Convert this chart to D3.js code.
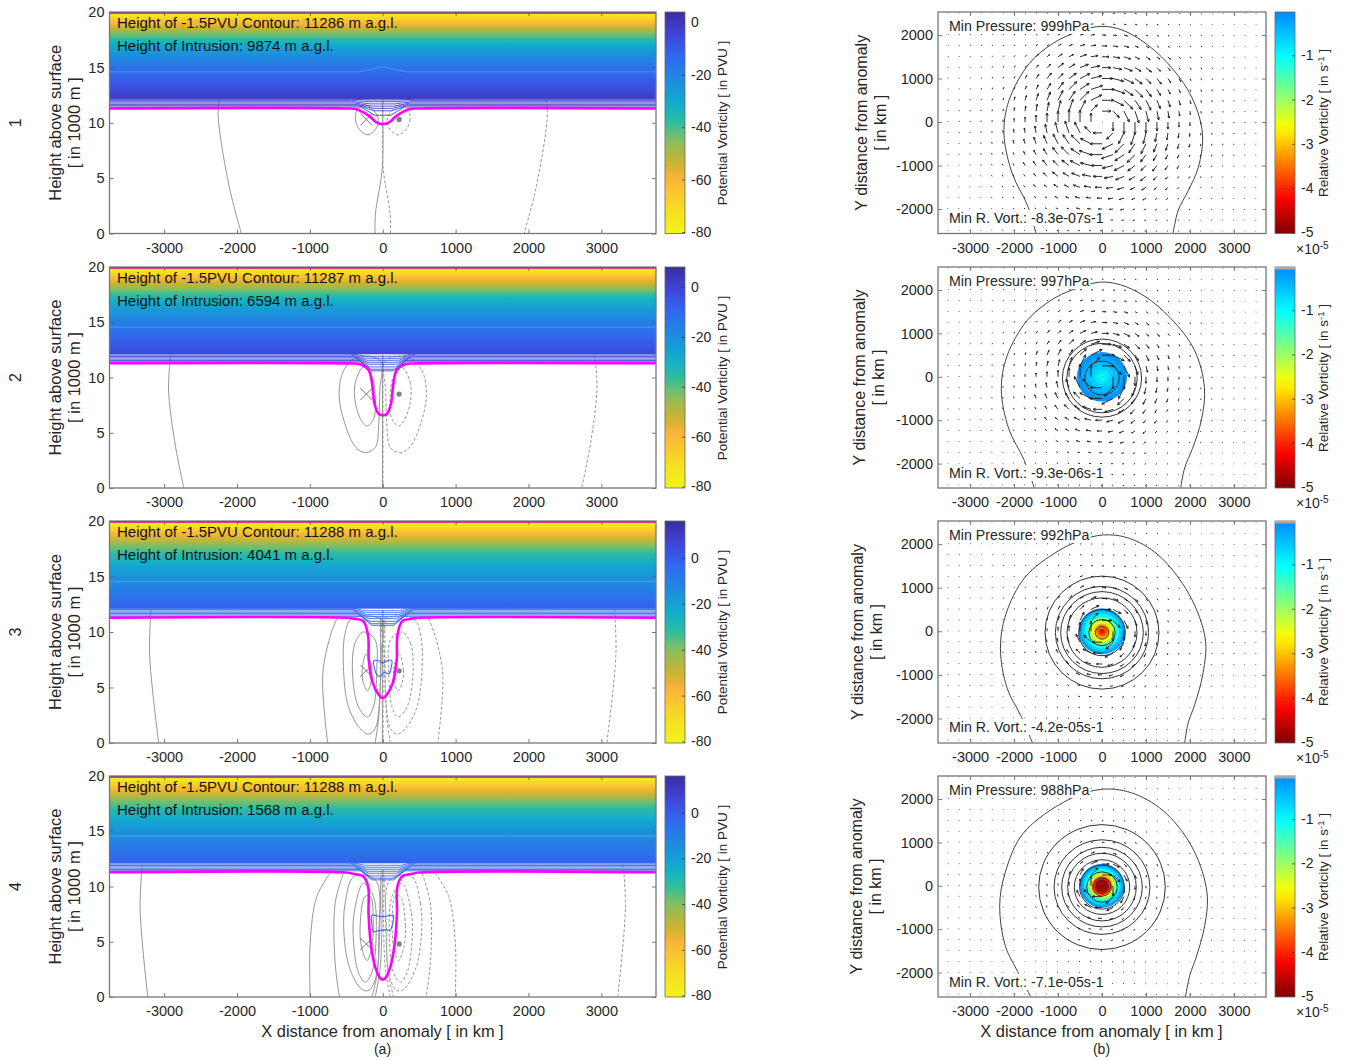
<!DOCTYPE html>
<html>
<head>
<meta charset="utf-8">
<script src="https://cdn.jsdelivr.net/npm/d3@7/dist/d3.min.js"></script>
<style>
  html, body { margin: 0; padding: 0; background: #fff; }
  svg { display: block; }
  text { font-family: "Liberation Sans", Arial, sans-serif; fill: #262626; }
</style>
</head>
<body>
<svg id="chart" width="1345" height="1060"></svg>
<script>
// ─── Values ────────────────────────────────────────────────────
const rowNames = ['1', '2', '3', '4'];
const contourHeight = [11286, 11287, 11288, 11288];
const intrusionHeight = [9874, 6594, 4041, 1568];
const minPressure = [999, 997, 992, 988];
const minVort = ['-8.3e-07', '-9.3e-06', '-4.2e-05', '-7.1e-05'];

// page layout of the four rows
const rowTop = [12, 267, 521, 776];
const rowBottom = [233.5, 488, 743, 997];
const rightLabelX = [862, 860, 858, 857];

const xTicks = [-3000, -2000, -1000, 0, 1000, 2000, 3000];
const zTicks = [0, 5, 10, 15, 20];
const yTicks = [-2000, -1000, 0, 1000, 2000];
const pvTicks = [0, -20, -40, -60, -80];
const jetTicks = [-1, -2, -3, -4, -5];

// colour limits of the PV colourbar per row
const pvTop = [4, 8, 16, 16];
const jetCap = [false, true, true, true];

// PV against height in the stratosphere
const pvProfileHeight = [20, 19.5, 19, 18.5, 18, 17.5, 17, 16, 15, 14, 13, 12.1];
const pvProfileValue = [-80, -70, -60, -52, -43, -36, -30, -22, -16, -11, -6, -1];

// separate PV contours above the tropopause: height far away / over the anomaly
const pvEdge = [11.42, 11.54, 11.66, 11.78, 11.9, 12.02, 12.14, 12.26];
const pvCentreRow1 = [10.68, 11.08, 11.3, 11.5, 11.7, 11.9, 12.05, 12.2];
const pvCentreOther = [10.6, 10.75, 10.96, 11.2, 11.38, 11.56, 11.74, 11.92];
const paleBandHeight = [14.6, 14.55, 14.55, 14.55];

// -1.5 PVU contour, left half, [km, 1000 m]
const troughRow1 = [[-3750, 11.29], [-520, 11.29], [-350, 11.2], [-185, 10.6], [-86, 10.03], [0, 9.874]];
const troughRow2 = [[-3750, 11.29], [-443, 11.27], [-306, 11.2], [-192, 10.66], [-146, 9.46], [-114, 7.65], [-55, 6.7], [0, 6.594]];
const troughRow3 = [[-3750, 11.29], [-500, 11.28], [-400, 11.2], [-265, 10.96], [-200, 9.6], [-192, 7.5], [-136, 5.4], [-60, 4.4], [0, 4.041]];
const troughRow4 = [[-3750, 11.29], [-500, 11.27], [-400, 11.15], [-265, 10.9], [-200, 9.96], [-195, 7.56], [-165, 4.9], [-105, 2.74], [-35, 1.7], [0, 1.568]];
const troughs = [troughRow1, troughRow2, troughRow3, troughRow4];

// closed PV contour inside the intrusion (rows 3 and 4)
const blueLoopRow3 = [[-123, 7.4], [-37, 7.36], [0, 7.2], [55, 7.4], [123, 7.44], [114, 6.75], [87, 6.24], [32, 6.35], [0, 6.24], [-37, 6.0], [-82, 6.15], [-114, 6.75]];
const blueLoopRow4 = [[-150, 7.4], [-82, 7.35], [0, 7.26], [78, 7.35], [146, 7.4], [137, 6.65], [100, 6.05], [32, 6.1], [0, 6.05], [-60, 6.0], [-128, 5.9], [-150, 6.65]];
const blueLoops = [null, null, blueLoopRow3, blueLoopRow4];

// wind contours on the left of the anomaly; the dashed ones are their mirror
const openRow1 = [
  [[-2245, 12.1], [-2258, 10.5], [-2106, 4.2], [-1940, 0]],
  [[-5, 12], [-5, 6], [-100, 1.8], [-106, 0]]
];
const loopRow1 = [
  [[-340, 11.3], [-375, 10.3], [-320, 9.4], [-205, 8.9], [-100, 9.4], [-60, 10.2], [-120, 11.1], [-230, 11.6]]
];
const openRow2 = [
  [[-2908, 12], [-2940, 9], [-2850, 4], [-2730, 0]],
  [[-3, 12], [-3, 0]]
];
const loopRow2 = [
  [[-343, 11.87], [-535, 10.66], [-599, 8.55], [-535, 6.14], [-375, 3.73], [-238, 3.2], [-100, 3.7], [-55, 5.8], [-40, 8.85], [-32, 11.5]],
  [[-260, 10.96], [-375, 9.6], [-375, 7.65], [-283, 6], [-215, 5.6], [-123, 6.3], [-100, 7.95], [-146, 10.06]]
];
const openRow3 = [
  [[-3180, 12], [-3200, 8], [-3075, 0]],
  [[-630, 11.2], [-722, 9.6], [-822, 6.3], [-790, 2], [-754, 0]],
  [[-105, 0], [-60, 2], [-35, 5], [-30, 11.4]],
  [[-5, 12], [-5, 0]]
];
const loopRow3 = [
  [[-425, 11.2], [-516, 9.9], [-540, 6.9], [-470, 3.25], [-310, 1.3], [-196, 0.8], [-105, 1.3], [-50, 3.25], [-23, 8], [-14, 11.1]],
  [[-265, 10], [-380, 9], [-415, 6.3], [-333, 3.25], [-210, 2.35], [-128, 3.25], [-82, 6.6], [-105, 9.3]],
  [[-228, 8], [-283, 6.6], [-265, 5.4], [-210, 4.7], [-165, 5.4], [-155, 6.9]]
];
const openRow4 = [
  [[-3300, 12], [-3330, 8], [-3225, 0]],
  [[-722, 11.2], [-905, 9.1], [-996, 4.9], [-996, 0]],
  [[-540, 11.2], [-653, 8.5], [-662, 4], [-630, 1.6], [-594, 0]],
  [[-150, 0], [-82, 1.9], [-45, 5.5], [-27, 10.9]],
  [[-105, 0], [-37, 2.5], [-10, 7], [-8, 11.5]]
];
const loopRow4 = [
  [[-393, 10.9], [-516, 8.5], [-530, 5.5], [-448, 2.5], [-288, 0.7], [-190, 0.6], [-85, 2], [-55, 5.5], [-100, 10.6]],
  [[-265, 10.3], [-393, 7.6], [-400, 4.9], [-333, 2.2], [-242, 1.35], [-150, 2.2], [-91, 5.5], [-128, 9.1]],
  [[-242, 9.1], [-310, 6.5], [-290, 4.5], [-215, 3.3], [-150, 4.5], [-130, 7], [-170, 9.1]]
];
const openContours = [openRow1, openRow2, openRow3, openRow4];
const loopContours = [loopRow1, loopRow2, loopRow3, loopRow4];

// X and dot markers
const markerX = 225;
const markerHeight = [10.3, 8.5, 6.5, 4.8];

// outermost isobar of the right panels, [km, km]
const isobarRow1 = [[-1500, -2560], [-1692, -1923], [-2038, -1192], [-2230, -270], [-2115, 500], [-1654, 1346], [-1115, 1808], [-654, 2038], [-115, 2192], [346, 2154], [885, 1885], [1500, 1346], [2038, 577], [2285, -270], [2192, -1038], [1962, -1577], [1731, -2038], [1615, -2560]];
const isobarRow2 = [[-1540, -2560], [-1780, -1900], [-2120, -1200], [-2290, -300], [-2160, 480], [-1700, 1300], [-1150, 1770], [-680, 2000], [-60, 2180], [420, 2120], [980, 1850], [1560, 1350], [2100, 620], [2330, -250], [2260, -1000], [2060, -1650], [1880, -2100], [1790, -2560]];
const isobarRow3 = [[-1580, -2560], [-1850, -1930], [-2160, -1300], [-2310, -400], [-2190, 380], [-1750, 1240], [-1000, 1840], [-500, 2080], [30, 2210], [600, 2140], [1280, 1750], [1980, 850], [2350, -180], [2300, -950], [2110, -1680], [1960, -2100], [1880, -2560]];
const isobarRow4 = [[-1620, -2560], [-1939, -1939], [-2204, -1371], [-2327, -462], [-2204, 295], [-1796, 1204], [-776, 1977], [40, 2227], [755, 2113], [1469, 1659], [2082, 826], [2388, -159], [2337, -917], [2133, -1674], [2000, -2053], [1898, -2560]];
const isobars = [isobarRow1, isobarRow2, isobarRow3, isobarRow4];

// inner isobar radii, km
const ringsRow1 = [];
const ringsRow2 = [900, 800, 390];
const ringsRow3 = [1296, 1060, 940, 796, 530, 300, 150];
const ringsRow4 = [1440, 1090, 917, 780, 630, 508, 350, 210, 144];
const rings = [ringsRow1, ringsRow2, ringsRow3, ringsRow4];

// relative vorticity bands: radius (km) and value (1e-5 s-1), outermost first
const vortRadiusRow2 = [570, 470, 370, 270, 170, 80];
const vortValueRow2 = [-0.1, -0.25, -0.4, -0.6, -0.8, -0.95];
const vortRadiusRow3 = [530, 460, 395, 320, 250, 180, 120, 60];
const vortValueRow3 = [-0.2, -0.6, -1.1, -1.8, -2.5, -3.1, -3.7, -4.1];
const vortRadiusRow4 = [508, 440, 395, 320, 275, 240, 210, 150];
const vortValueRow4 = [-0.2, -0.6, -1.1, -1.8, -2.5, -3.2, -4, -4.8];
const vortRadius = [[], vortRadiusRow2, vortRadiusRow3, vortRadiusRow4];
const vortValue = [[], vortValueRow2, vortValueRow3, vortValueRow4];

// wind grid and wind speed per 250 km radius ring
const gridKm = [-3500, -3250, -3000, -2750, -2500, -2250, -2000, -1750, -1500, -1250, -1000, -750, -500, -250, 0, 250, 500, 750, 1000, 1250, 1500, 1750, 2000, 2250, 2500, 2750, 3000, 3250, 3500];
const gridYKm = [-2500, -2250, -2000, -1750, -1500, -1250, -1000, -750, -500, -250, 0, 250, 500, 750, 1000, 1250, 1500, 1750, 2000, 2250, 2500];
const speedRow1 = [0.5, 9, 12, 12.5, 11, 9, 7, 5, 3.5, 2.5, 1.8, 1.4, 1.1, 0.9, 0.8, 0.8, 0.7, 0.7, 0.7];
const speedRow2 = [0.5, 12, 12.5, 9, 6.5, 5, 3.8, 2.8, 2, 1.5, 1.2, 1, 0.9, 0.8, 0.8, 0.7, 0.7, 0.7, 0.7];
const speedRow3 = [0.5, 10, 9, 5.5, 4, 3, 2, 1.5, 1.2, 1, 0.9, 0.8, 0.8, 0.7, 0.7, 0.7, 0.7, 0.7, 0.7];
const speedRow4 = [0.5, 10, 7, 3.5, 2.5, 2, 1.3, 1, 0.8, 0.8, 0.7, 0.7, 0.7, 0.7, 0.7, 0.7, 0.7, 0.7, 0.7];
const speeds = [speedRow1, speedRow2, speedRow3, speedRow4];

// ─── Scales shared by all rows ─────────────────────────────────
const svg = d3.select('#chart');
const defs = svg.append('defs');

const xLeft = d3.scaleLinear().domain([-3750, 3750]).range([109.5, 656]);
const xRight = d3.scaleLinear().domain([-3730, 3730]).range([938, 1266]);
const arrowPx = d3.scaleLinear().domain([0, 1]).range([0, 1]);

// parula as it looks in the reference colourbar
const parula = d3.scaleLinear()
  .domain([0, 0.1, 0.2, 0.3, 0.42, 0.5, 0.58, 0.68, 0.76, 0.9, 1])
  .range(['#3a2ea0', '#4044d8', '#3068f0', '#2088e0', '#0eb0cc', '#30bd9c', '#88c060', '#c9b22e', '#fdb43a', '#f6e020', '#f2f318'])
  .clamp(true);

// jet, cut at the blue end
const jet = d3.scaleLinear()
  .domain([-5, -4.2, -2.6, -1.8, -1, 0])
  .range(['#800000', '#ff0000', '#ffff00', '#80ff80', '#00ffff', '#0088ff'])
  .clamp(true);

const curve = d3.curveCatmullRom.alpha(0.5);
const curveLoop = d3.curveCatmullRomClosed.alpha(0.5);
const mirror = pts => pts.map(([x, z]) => [-x, z]);
const tickText = d => String(d);

function frameAxes(g, x, y, top, bottom, left, right, tickX, tickY, yPad) {
  const stroke = '#777';
  const xb = g.append('g').attr('transform', `translate(0,${bottom})`)
    .call(d3.axisBottom(x).tickValues(tickX).tickSize(-4).tickSizeOuter(0).tickPadding(9).tickFormat(tickText));
  const xt = g.append('g').attr('transform', `translate(0,${top})`)
    .call(d3.axisTop(x).tickValues(tickX).tickSize(-4).tickSizeOuter(0).tickFormat(''));
  const yl = g.append('g').attr('transform', `translate(${left},0)`)
    .call(d3.axisLeft(y).tickValues(tickY).tickSize(-4).tickSizeOuter(0).tickPadding(yPad).tickFormat(tickText));
  const yr = g.append('g').attr('transform', `translate(${right},0)`)
    .call(d3.axisRight(y).tickValues(tickY).tickSize(-4).tickSizeOuter(0).tickFormat(''));
  [xb, xt, yl, yr].forEach(a => {
    a.select('.domain').remove();
    a.selectAll('line').attr('stroke', '#555').attr('stroke-width', 0.8);
    a.selectAll('text').style('font-size', '14.5px');
  });
  g.append('rect').attr('x', left).attr('y', top).attr('width', right - left).attr('height', bottom - top)
    .attr('fill', 'none').attr('stroke', stroke).attr('stroke-width', 1.3);
}

function rotatedText(g, txt, x, y, size) {
  return g.append('text').attr('transform', `translate(${x},${y}) rotate(-90)`)
    .attr('text-anchor', 'middle').style('font-size', size + 'px').text(txt);
}

function colourbar(g, id, x0, x1, y, top, bottom, ticks, colour, lo, hi) {
  const grad = defs.append('linearGradient').attr('id', id)
    .attr('x1', 0).attr('x2', 0).attr('y1', 0).attr('y2', 1);
  d3.range(0, 1.0001, 0.05).forEach(t => {
    grad.append('stop').attr('offset', t).attr('stop-color', colour(hi + (lo - hi) * t));
  });
  g.append('rect').attr('x', x0).attr('y', top).attr('width', x1 - x0).attr('height', bottom - top)
    .attr('fill', `url(#${id})`).attr('stroke', '#666').attr('stroke-width', 0.8);
  const ax = g.append('g').attr('transform', `translate(${x1},0)`)
    .call(d3.axisRight(y).tickValues(ticks).tickSize(-3).tickSizeOuter(0).tickPadding(6).tickFormat(tickText));
  ax.select('.domain').remove();
  ax.selectAll('line').attr('stroke', '#333').attr('stroke-width', 0.7);
  ax.selectAll('text').style('font-size', '14px');
}

// ─── Left column: PV cross sections ────────────────────────────
rowNames.forEach((name, r) => {
  const top = rowTop[r], bottom = rowBottom[r];
  const g = svg.append('g');
  const z = d3.scaleLinear().domain([0, 20]).range([bottom, top]);
  const pvColour = v => parula((pvTop[r] - v) / (pvTop[r] + 80));
  const line = d3.line().x(d => xLeft(d[0])).y(d => z(d[1]));

  const clipId = 'clip-left-' + r;
  defs.append('clipPath').attr('id', clipId).append('rect')
    .attr('x', xLeft.range()[0]).attr('y', top)
    .attr('width', xLeft.range()[1] - xLeft.range()[0]).attr('height', bottom - top);
  const inner = g.append('g').attr('clip-path', `url(#${clipId})`);

  // grey wind contours first, PV goes over them
  const grey = '#969696';
  openContours[r].forEach(pts => {
    inner.append('path').attr('d', line.curve(curve)(pts))
      .attr('fill', 'none').attr('stroke', grey).attr('stroke-width', 1);
    inner.append('path').attr('d', line.curve(curve)(mirror(pts)))
      .attr('fill', 'none').attr('stroke', grey).attr('stroke-width', 1).attr('stroke-dasharray', '3,2');
  });
  loopContours[r].forEach(pts => {
    inner.append('path').attr('d', line.curve(curveLoop)(pts))
      .attr('fill', 'none').attr('stroke', grey).attr('stroke-width', 1);
    inner.append('path').attr('d', line.curve(curveLoop)(mirror(pts)))
      .attr('fill', 'none').attr('stroke', grey).attr('stroke-width', 1).attr('stroke-dasharray', '3,2');
  });

  // stratospheric PV
  const gradId = 'pv-field-' + r;
  const grad = defs.append('linearGradient').attr('id', gradId)
    .attr('gradientUnits', 'userSpaceOnUse')
    .attr('x1', 0).attr('x2', 0).attr('y1', z(20)).attr('y2', z(12.1));
  pvProfileHeight.forEach((h, i) => {
    grad.append('stop').attr('offset', (20 - h) / (20 - 12.1)).attr('stop-color', pvColour(pvProfileValue[i]));
  });
  inner.append('rect').attr('x', xLeft(-3750)).attr('y', z(20))
    .attr('width', xLeft(3750) - xLeft(-3750)).attr('height', z(12.1) - z(20))
    .attr('fill', `url(#${gradId})`);

  // pale band near 15 km
  const bh = paleBandHeight[r];
  const bandPts = r === 0
    ? [[-3750, bh], [-320, bh], [0, 15.05], [320, bh], [3750, bh]]
    : [[-3750, bh], [3750, bh]];
  inner.append('path').attr('d', line.curve(d3.curveLinear)(bandPts))
    .attr('fill', 'none').attr('stroke', '#fff').attr('stroke-opacity', 0.14).attr('stroke-width', 1.5);

  // separate PV contours
  const centre = r === 0 ? pvCentreRow1 : pvCentreOther;
  pvEdge.forEach((e, i) => {
    const c = centre[i];
    const w = (r === 0 ? 110 : 150) + i * 14;
    const s = 300 + i * 26;
    inner.append('path')
      .attr('d', line.curve(d3.curveLinear)([[-3750, e], [-s, e], [-w, c], [w, c], [s, e], [3750, e]]))
      .attr('fill', 'none').attr('stroke', pvColour(-1.5 - i * 0.3)).attr('stroke-width', 0.9);
  });

  // closed PV loop
  if (blueLoops[r]) {
    inner.append('path').attr('d', line.curve(curveLoop)(blueLoops[r]))
      .attr('fill', 'none').attr('stroke', '#3f66e6').attr('stroke-width', 1.1);
  }

  // X and dot
  const mx = xLeft(-markerX), my = z(markerHeight[r]);
  inner.append('path').attr('d', `M${mx - 6},${my - 6}L${mx + 6},${my + 6}M${mx - 6},${my + 6}L${mx + 6},${my - 6}`)
    .attr('stroke', '#777').attr('stroke-width', 1).attr('fill', 'none');

  // -1.5 PVU contour
  const half = troughs[r];
  const full = half.concat(mirror(half).reverse().slice(1));
  inner.append('path').attr('d', line.curve(curve)(full))
    .attr('fill', 'none').attr('stroke', '#ff00ff').attr('stroke-width', 2.6);

  inner.append('circle').attr('cx', xLeft(markerX)).attr('cy', my).attr('r', 2.6).attr('fill', '#808080');

  inner.append('line').attr('x1', xLeft(-3750)).attr('x2', xLeft(3750)).attr('y1', z(20) + 0.5).attr('y2', z(20) + 0.5)
    .attr('stroke', '#c000c0').attr('stroke-width', 2.5);

  frameAxes(g, xLeft, z, top, bottom, xLeft.range()[0], xLeft.range()[1], xTicks, zTicks, 5);

  g.append('text').attr('x', 117).attr('y', top + 16).style('font-size', '15px').style('fill', '#111')
    .text(`Height of -1.5PVU Contour: ${contourHeight[r]} m a.g.l.`);
  g.append('text').attr('x', 117).attr('y', top + 39).style('font-size', '15px').style('fill', '#111')
    .text(`Height of Intrusion: ${intrusionHeight[r]} m a.g.l.`);

  rotatedText(g, name, 21, (top + bottom) / 2, 16);
  rotatedText(g, 'Height above surface', 61, (top + bottom) / 2, 16.5);
  rotatedText(g, '[ in 1000 m ]', 80, (top + bottom) / 2, 16.5);

  // PV colourbar
  const py = d3.scaleLinear().domain([-80, pvTop[r]]).range([bottom - 1.5, top]);
  colourbar(g, 'pv-bar-' + r, 665, 685, py, top, bottom, pvTicks, v => pvColour(v), -80, pvTop[r]);
  rotatedText(g, 'Potential Vorticity [ in PVU ]', 727, top + 111, 13.5);
});

// ─── Right column: vorticity and wind ──────────────────────────
rowNames.forEach((name, r) => {
  const top = rowTop[r], bottom = rowBottom[r];
  const g = svg.append('g');
  const y = d3.scaleLinear().domain([-2563, 2530]).range([bottom, top]);
  const rx = km => xRight(km) - xRight(0);
  const ry = km => y(0) - y(km);
  const line = d3.line().x(d => xRight(d[0])).y(d => y(d[1])).curve(curve);

  const clipId = 'clip-right-' + r;
  defs.append('clipPath').attr('id', clipId).append('rect')
    .attr('x', 938).attr('y', top).attr('width', 328).attr('height', bottom - top);
  const inner = g.append('g').attr('clip-path', `url(#${clipId})`);

  vortRadius[r].forEach((rad, i) => {
    inner.append('ellipse').attr('cx', xRight(0)).attr('cy', y(0))
      .attr('rx', rx(rad)).attr('ry', ry(rad))
      .attr('fill', jet(vortValue[r][i]));
  });

  rings[r].forEach(rad => {
    inner.append('ellipse').attr('cx', xRight(0)).attr('cy', y(-30))
      .attr('rx', rx(rad)).attr('ry', ry(rad))
      .attr('fill', 'none').attr('stroke', '#333').attr('stroke-width', 1);
  });

  inner.append('path').attr('d', line(isobars[r]))
    .attr('fill', 'none').attr('stroke', '#444').attr('stroke-width', 1);

  // clockwise wind vectors, tail on the grid point
  const windPaths = [];
  gridKm.forEach(gx => {
    gridYKm.forEach(gy => {
      const dist = Math.hypot(gx, gy);
      const bin = Math.round(dist / 250);
      const len = arrowPx(speeds[r][Math.min(bin, speeds[r].length - 1)]);
      const ux = dist > 0 ? gy / dist : 1;
      const uy = dist > 0 ? gx / dist : 0;   // screen y points down
      const x0 = xRight(gx), y0 = y(gy);
      const x1 = x0 + ux * len, y1 = y0 + uy * len;
      let d = `M${x0},${y0}L${x1},${y1}`;
      if (len > 3) {
        const h = Math.min(3, len * 0.32);
        const a = Math.atan2(uy, ux);
        d += `M${x1 - h * Math.cos(a - 0.42)},${y1 - h * Math.sin(a - 0.42)}L${x1},${y1}` +
             `L${x1 - h * Math.cos(a + 0.42)},${y1 - h * Math.sin(a + 0.42)}`;
      }
      windPaths.push(d);
    });
  });
  inner.append('path').attr('d', windPaths.join(''))
    .attr('fill', 'none').attr('stroke', '#222').attr('stroke-width', 0.95);

  // annotations sit on white boxes that hide what is below them
  [[`Min Pressure: ${minPressure[r]}hPa`, top + 19], [`Min R. Vort.: ${minVort[r]}s-1`, top + 211]].forEach(([t, base]) => {
    const box = g.append('rect').attr('fill', '#fff');
    const label = g.append('text').attr('x', 949).attr('y', base).style('font-size', '14.2px').text(t);
    const bb = label.node().getBBox();
    box.attr('x', bb.x - 1).attr('y', bb.y).attr('width', bb.width + 2).attr('height', bb.height);
  });

  frameAxes(g, xRight, y, top, bottom, 938, 1266, xTicks, yTicks, 5);

  rotatedText(g, 'Y distance from anomaly', rightLabelX[r] + 5, (top + bottom) / 2, 16);
  rotatedText(g, '[ in km ]', rightLabelX[r] + 24, (top + bottom) / 2, 16);

  // jet colourbar
  const jy = d3.scaleLinear().domain([-5, 0]).range([bottom - 1, top - 1]);
  colourbar(g, 'jet-bar-' + r, 1275, 1295, jy, top, bottom, jetTicks, jet, -5, 0);
  if (jetCap[r]) {
    g.append('rect').attr('x', 1275).attr('y', top).attr('width', 20).attr('height', 2.5).attr('fill', '#aaa');
  }
  const lab = g.append('text').attr('transform', `translate(1328,${top + 111}) rotate(-90)`)
    .attr('text-anchor', 'middle').style('font-size', '13.5px');
  lab.append('tspan').text('Relative Vorticity [ in s');
  lab.append('tspan').attr('dy', -4).style('font-size', '9.5px').text('-1');
  lab.append('tspan').attr('dy', 4).text(' ]');
  const exp = g.append('text').attr('x', 1296).attr('y', bottom + 20).style('font-size', '14px');
  exp.append('tspan').text('×10');
  exp.append('tspan').attr('dy', -5).style('font-size', '10px').text('-5');
});

// ─── Bottom labels ─────────────────────────────────────────────
const bottomLabelX = [382.5, 1101.5];
const bottomLabels = ['X distance from anomaly [ in km ]', 'X distance from anomaly [ in km ]'];
const panelLetters = ['(a)', '(b)'];
bottomLabelX.forEach((x, i) => {
  svg.append('text').attr('x', x).attr('y', 1037).attr('text-anchor', 'middle')
    .style('font-size', '16.4px').text(bottomLabels[i]);
  svg.append('text').attr('x', x).attr('y', 1054).attr('text-anchor', 'middle')
    .style('font-size', '14px').text(panelLetters[i]);
});
</script>
</body>
</html>
